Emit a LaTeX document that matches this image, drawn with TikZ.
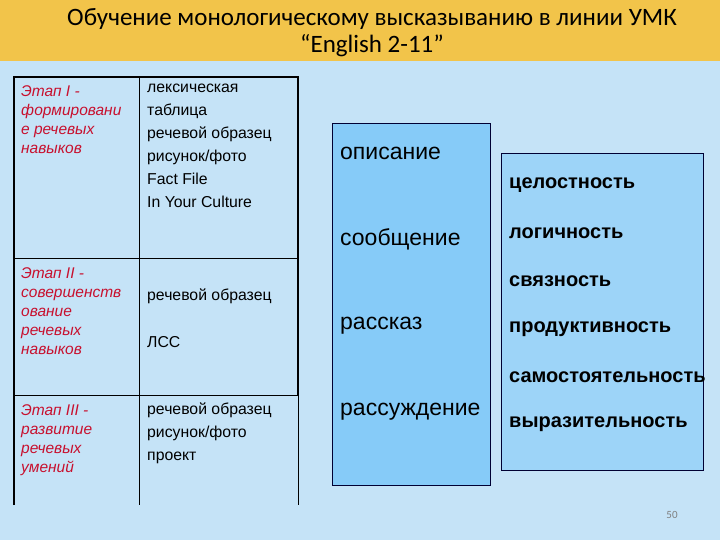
\documentclass[tikz,border=0pt]{standalone}
\usepackage{fontspec}
\setmainfont{Liberation Sans}
\newfontfamily\titlefont{Carlito}
\definecolor{bg}{HTML}{C5E3F7}
\definecolor{ttl}{HTML}{F2C44A}
\definecolor{bluebox}{HTML}{86CBF8}
\definecolor{rbox}{HTML}{9DD4F8}
\definecolor{etap}{HTML}{C8102E}
\tikzset{
 stage/.style={anchor=north west,align=left,text=etap,font=\itshape\fontsize{15.5}{19}\selectfont,inner sep=0pt},
 res/.style={anchor=north west,align=left,font=\fontsize{15.8}{23}\selectfont,inner sep=0pt},
 form/.style={anchor=west,font=\fontsize{23}{26}\selectfont,inner sep=0pt},
 qual/.style={anchor=west,font=\bfseries\fontsize{20}{22}\selectfont,inner sep=0pt},
}
\begin{document}
\begin{tikzpicture}[x=1pt,y=-1pt]
\fill[bg] (0,0) rectangle (720,540);
\useasboundingbox (0,0) rectangle (720,540);
\fill[ttl] (0,0) rectangle (720,61);
\node[font=\titlefont\fontsize{25}{27}\selectfont,align=center] (title) at (372,33) {Обучение монологическому высказыванию в линии УМК\\“English 2-11”};
% table
\draw[line width=1.2pt] (14,505) -- (14,77) -- (298,77) -- (298,395);
\draw[line width=0.8pt] (139,77) -- (139,505) (298,395) -- (298,505);
\draw[line width=0.8pt] (14,258) -- (298,258) (14,395) -- (298,395);
\node[stage] (s1) at (21,85) {Этап I -\\формировани\\е речевых\\навыков};
\node[stage] (s2) at (21,267) {Этап II -\\совершенств\\ование\\речевых\\навыков};
\node[stage] (s3) at (21,404) {Этап III -\\развитие\\речевых\\умений};
\node[res] (r1) at (147,84) {лексическая\\таблица\\речевой образец\\рисунок/фото\\Fact File\\In Your Culture};
\node[res,anchor=west] (r2a) at (147,296) {речевой образец};
\node[res,anchor=west] (r2b) at (147,342) {ЛСС};
\node[res] (r3) at (147,403) {речевой образец\\рисунок/фото\\проект};
% boxes
\draw[fill=bluebox,draw=black!80!blue] (332,123) rectangle (490,485);
\draw[fill=rbox,draw=black!80!blue] (501,153) rectangle (703,470);
\node[form] (f1) at (340,153) {описание};
\node[form] (f2) at (340,239) {сообщение};
\node[form] (f3) at (340,326) {рассказ};
\node[form] (f4) at (340,412) {рассуждение};
\node[qual] (q1) at (509,185) {целостность};
\node[qual] (q2) at (509,233) {логичность};
\node[qual] (q3) at (509,281) {связность};
\node[qual] (q4) at (509,329) {продуктивность};
\node[qual] (q5) at (509,377) {самостоятельность};
\node[qual] (q6) at (509,424) {выразительность};
\node[font=\titlefont\fontsize{11}{13}\selectfont,text=gray] (pg) at (672,515) {50};
\end{tikzpicture}
\end{document}
